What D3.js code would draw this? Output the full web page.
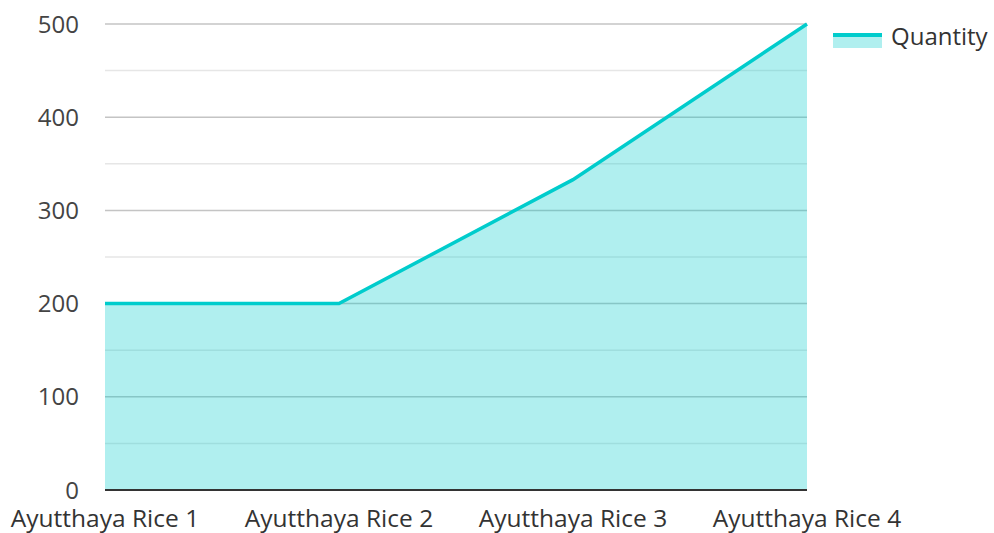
<!DOCTYPE html>
<html><head><meta charset="utf-8">
<script src="https://cdn.jsdelivr.net/npm/d3@7"></script>
<style>body{margin:0;background:#fff}svg{display:block;font-family:"Open Sans",sans-serif}</style>
</head><body><svg id="c" width="994" height="533"></svg>
<script>
const categories = ["Ayutthaya Rice 1","Ayutthaya Rice 2","Ayutthaya Rice 3","Ayutthaya Rice 4"];
const quantity = [200, 200, 333, 500];
const yTicks = [0,100,200,300,400,500];
const minorTicks = [50,150,250,350,450];
const seriesName = "Quantity";

(function(){
const svg = d3.select("#c");
const pl = 105, pr = 807, pt = 24, pb = 490;
const x = d3.scalePoint().domain(categories).range([pl, pr]);
const y = d3.scaleLinear().domain([0,500]).range([pb, pt]);

const g = svg.append("g");
g.selectAll(".minor").data(minorTicks).join("line")
  .attr("x1", pl).attr("x2", pr).attr("y1", d=>y(d)).attr("y2", d=>y(d))
  .attr("stroke", "#e6e6e6").attr("stroke-width", 1.5);
g.selectAll(".major").data(yTicks.filter(d=>d>0)).join("line")
  .attr("x1", pl).attr("x2", pr).attr("y1", d=>y(d)).attr("y2", d=>y(d))
  .attr("stroke", "#c4c4c4").attr("stroke-width", 1.5);

const area = d3.area().x((d,i)=>x(categories[i])).y0(y(0)).y1(d=>y(d));
g.append("path").datum(quantity).attr("d", area).attr("fill", "rgba(0,204,204,0.31)");
const line = d3.line().x((d,i)=>x(categories[i])).y(d=>y(d));
g.append("path").datum(quantity).attr("d", line).attr("fill","none").attr("stroke","#00cccc").attr("stroke-width",3.5);

g.append("line").attr("x1", pl).attr("x2", pr).attr("y1", y(0)).attr("y2", y(0))
  .attr("stroke","#333").attr("stroke-width",2);

g.selectAll(".yl").data(yTicks).join("text")
  .attr("x", 79).attr("y", d=>y(d)+8.5).attr("text-anchor","end")
  .attr("font-size", 24).attr("fill","#444").text(d=>d);
g.selectAll(".xl").data(categories).join("text")
  .attr("x", d=>x(d)).attr("y", 527).attr("text-anchor","middle")
  .attr("font-size", 24.5).attr("fill","#333").text(d=>d);

const lg = svg.append("g");
lg.append("rect").attr("x",833).attr("y",35).attr("width",49).attr("height",13).attr("fill","rgba(0,204,204,0.31)");
lg.append("line").attr("x1",833).attr("x2",882).attr("y1",35).attr("y2",35).attr("stroke","#00cccc").attr("stroke-width",4);
lg.append("text").attr("x",891).attr("y",45).attr("font-size",24).attr("fill","#333").text(seriesName);
})();
</script></body></html>
